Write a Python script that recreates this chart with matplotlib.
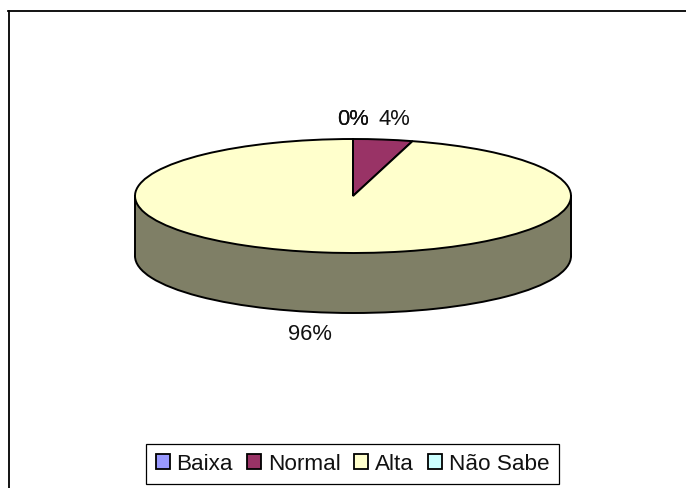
import matplotlib
matplotlib.use('Agg')
import matplotlib.pyplot as plt
from matplotlib.patches import Rectangle

plt.rcParams['font.family'] = ['Liberation Sans', 'DejaVu Sans']

categories = ['Baixa', 'Normal', 'Alta', 'Não Sabe']
values = [0, 4.4, 95.6, 0]
colors = ['#9999FF', '#993366', '#FFFFCC', '#CCFFFF']
side_color = '#7F7F66'
labels = ['0%', '4%', '96%', '0%']
label_x = [0.0, 0.19, -0.197, 0.0]
label_y = [1.36, 1.36, -2.41, 1.36]

W, H = 686, 489
cx, cy, rx, ry = 353, 197, 218, 57
depth = 60 / ry
lw = 1.4

fig = plt.figure(figsize=(W / 100, H / 100), dpi=100)
ax = fig.add_axes([8.5 / W, 0, (W - 8.5) / W, (H - 12) / H])

# side of the disc, then the top face
ax.pie([1], colors=[side_color], center=(0, -depth), radius=1,
       wedgeprops={'edgecolor': 'black', 'linewidth': lw})
ax.add_patch(Rectangle((-1, -depth), 2, depth, facecolor=side_color, edgecolor='none'))
ax.plot([-1, -1], [-depth, 0], color='black', lw=lw)
ax.plot([1, 1], [-depth, 0], color='black', lw=lw)
wedges, _ = ax.pie(values, colors=colors, startangle=90, counterclock=False, radius=1,
                   wedgeprops={'edgecolor': 'black', 'linewidth': lw})

for t, x, y in zip(labels, label_x, label_y):
    ax.text(x, y, t, ha='center', va='center', fontsize=15.8, color='#111111')

ax.set_aspect('auto')
ax.set_xlim((8.5 - cx) / rx, (W - cx) / rx)
ax.set_ylim((cy - H) / ry, (cy - 12) / ry)
ax.set_xticks([])
ax.set_yticks([])
ax.set_frame_on(True)
ax.spines['right'].set_visible(False)
ax.spines['bottom'].set_visible(False)
ax.spines['top'].set_linewidth(1.3)
ax.spines['left'].set_linewidth(1.3)

leg = ax.legend(wedges, categories, ncol=4, loc='center',
                bbox_to_anchor=(352.5 / W, 1 - 465 / H), bbox_transform=fig.transFigure,
                fontsize=16.2, fancybox=False, framealpha=1, edgecolor='black',
                handlelength=0.62, handleheight=0.62, handletextpad=0.3,
                columnspacing=0.62, borderpad=0.42, borderaxespad=0, labelcolor='#111111')
leg.get_frame().set_linewidth(0.9)
for h in leg.legend_handles:
    h.set_linewidth(1.3)

fig.savefig('out.png', dpi=100)
